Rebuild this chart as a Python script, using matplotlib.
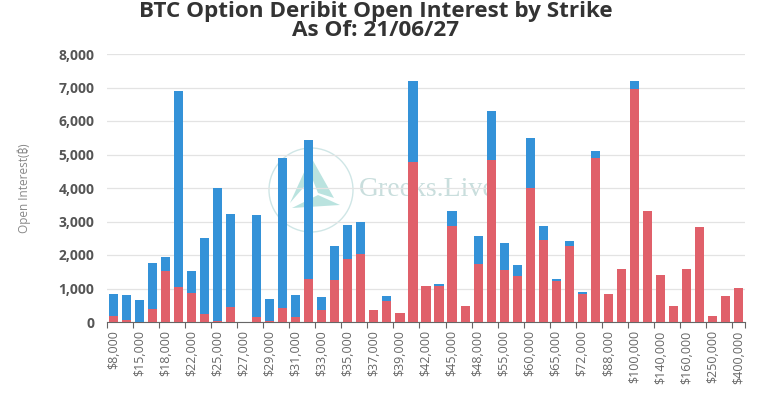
import matplotlib
matplotlib.use("Agg")
import matplotlib.pyplot as plt
from matplotlib.patches import Circle, Polygon

# strikes (only every other one is labelled on the axis)
strikes = ["$8,000", "$10,000", "$15,000", "$16,000", "$18,000", "$20,000",
           "$22,000", "$24,000", "$25,000", "$26,000", "$27,000", "$28,000",
           "$29,000", "$30,000", "$31,000", "$32,000", "$33,000", "$34,000",
           "$35,000", "$36,000", "$37,000", "$38,000", "$39,000", "$40,000",
           "$42,000", "$44,000", "$45,000", "$46,000", "$48,000", "$50,000",
           "$55,000", "$56,000", "$60,000", "$64,000", "$65,000", "$70,000",
           "$72,000", "$80,000", "$88,000", "$90,000", "$100,000", "$120,000",
           "$140,000", "$150,000", "$160,000", "$200,000", "$250,000",
           "$300,000", "$400,000"]

calls = [190, 50, 10, 400, 1530, 1030, 870, 230, 40, 440, 0, 150,
         20, 430, 160, 1280, 350, 1240, 1880, 2030, 360, 640, 270, 4790,
         1075, 1080, 2880, 478, 1720, 4830, 1540, 1380, 4010, 2440, 1230, 2280,
         840, 4900, 836, 1572, 6950, 3323, 1393, 488, 1572, 2836, 169,
         776, 1005]

puts = [660, 770, 650, 1370, 410, 5870, 660, 2290, 3960, 2790, 0, 3030,
        660, 4470, 660, 4140, 400, 1030, 1020, 970, 0, 130, 0, 2400,
        0, 40, 420, 0, 850, 1460, 820, 330, 1490, 420, 40, 150,
        70, 200, 0, 0, 250, 0, 0, 0, 0, 0, 0,
        0, 0]

blue = "#3492d8"
red = "#e0606a"

plt.rcParams['font.family'] = ['Open Sans', 'DejaVu Sans']

W, H = 766, 396
fig = plt.figure(figsize=(W / 100, H / 100), dpi=100)
ax = fig.add_axes([107 / W, 74 / H, 638 / W, 268 / H])

x = list(range(len(strikes)))
ax.bar(x, calls, width=0.7, color=red, zorder=3)
ax.bar(x, puts, width=0.7, bottom=calls, color=blue, zorder=3)

ax.set_xlim(-0.5, len(strikes) - 0.5)
ax.set_ylim(0, 8000)
ax.set_yticks(range(0, 8001, 1000))
ax.set_yticklabels([f"{v:,}" for v in range(0, 8001, 1000)],
                   fontsize=10, fontweight="bold", color="#555555")
ax.tick_params(axis="y", length=0, pad=9)
ax.grid(axis="y", color="#e3e3e3", linewidth=0.9, zorder=0)

# ticks on category boundaries, labels on every other category
bounds = [i - 0.5 for i in range(0, len(strikes), 2)] + [len(strikes) - 0.5]
ax.set_xticks(bounds)
ax.set_xticklabels([])
ax.tick_params(axis="x", length=4, color="#666666")
ax.set_xticks(x[::2], minor=True)
ax.set_xticklabels(strikes[::2], minor=True, rotation=90, fontsize=9,
                   color="#666666")
ax.tick_params(axis="x", which="minor", length=0, pad=6)

for s in ["top", "right", "left"]:
    ax.spines[s].set_visible(False)
ax.spines["bottom"].set_color("#666666")

ax.set_ylabel("Open Interest(₿)", fontsize=8.5, color="#888888", labelpad=20,
              family=['Open Sans', 'Noto Sans', 'Inter', 'Roboto', 'Lato',
                      'DejaVu Sans'])

fig.text(376 / W, 1 - 11 / H, "BTC Option Deribit Open Interest by Strike",
         ha="center", va="center", fontsize=16.2, fontweight="bold", color="#333333")
fig.text(376 / W, 1 - 31 / H, "As Of: 21/06/27",
         ha="center", va="center", fontsize=16.2, fontweight="bold", color="#333333")

# watermark behind the bars
fig.patches.append(Circle((311, H - 190), 42, fill=False, edgecolor="#cfe6e6",
                          linewidth=1.0, transform=None, zorder=0))
tri1 = [(311, H - 157), (290, H - 203), (303, H - 188), (313, H - 181)]
tri2 = [(311, H - 157), (334, H - 198), (318, H - 193), (312, H - 178)]
tri3 = [(292, H - 208), (340, H - 205), (318, H - 195)]
for pts in (tri1, tri2, tri3):
    fig.patches.append(Polygon(pts, closed=True, facecolor="#a9dcd8",
                               edgecolor="none", alpha=0.8, transform=None,
                               zorder=0))
fig.text(359 / W, 1 - 190 / H, "Greeks.Live", fontsize=20, color="#c9dedd",
         family="Liberation Serif", va="center", ha="left", zorder=0)

ax.set_zorder(1)
ax.patch.set_alpha(0)

fig.savefig("out.png", dpi=100)
